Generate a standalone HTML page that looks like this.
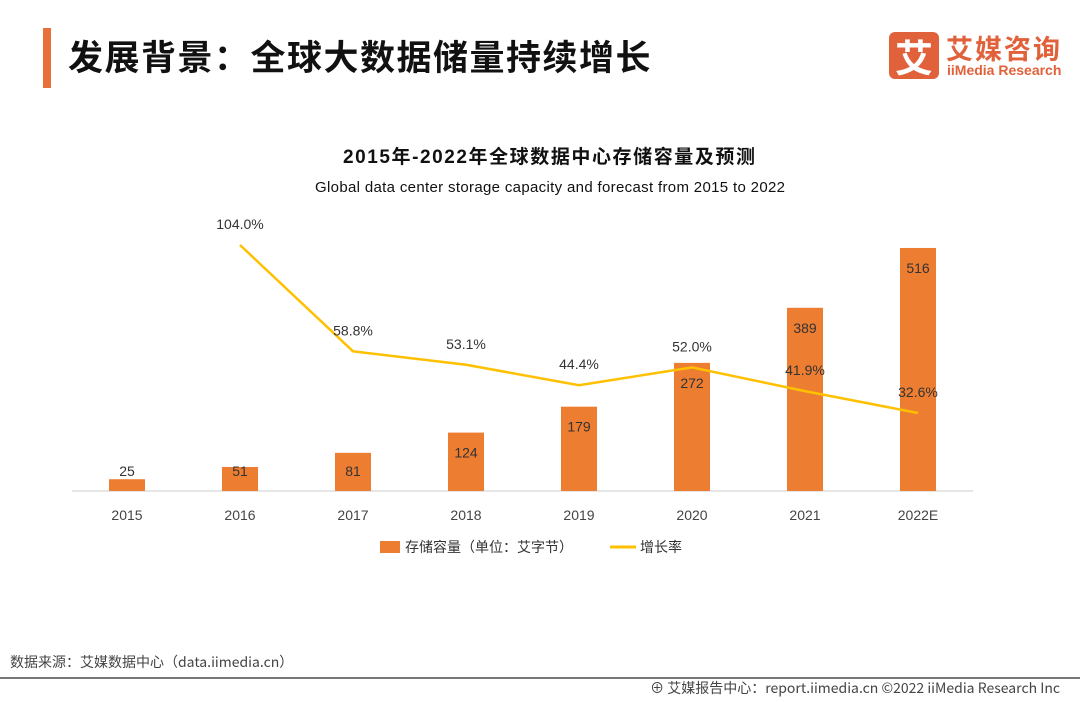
<!DOCTYPE html>
<html><head><meta charset="utf-8"><style>
body{margin:0;width:1080px;height:702px;background:#fff;overflow:hidden;font-family:"Liberation Sans","Noto Sans CJK SC",sans-serif;position:relative}
.abs{position:absolute}
</style></head><body>
<div class="abs" style="left:43px;top:28px;width:8px;height:60px;background:#e8703a"></div>
<div class="abs" style="left:68px;top:30px;font-size:35px;font-weight:bold;color:#111;font-family:'Noto Sans CJK SC',sans-serif;letter-spacing:1.5px">发展背景：全球大数据储量持续增长</div>
<div class="abs" style="left:889px;top:32px;width:50px;height:47px;background:#e0613a;border-radius:6px;color:#fff;font-size:38px;font-weight:bold;text-align:center;line-height:47px;font-family:'Noto Sans CJK SC',sans-serif">艾</div>
<div class="abs" style="left:946px;top:28px;font-size:27px;font-weight:bold;color:#e0613a;font-family:'Noto Sans CJK SC',sans-serif;letter-spacing:2px">艾媒咨询</div>
<div class="abs" style="left:947px;top:62px;font-size:14px;color:#e0613a;font-weight:bold">iiMedia Research</div>
<svg class="abs" style="left:0;top:0" width="1080" height="702">
<text x="549" y="163" text-anchor="middle" font-size="19" font-weight="bold" fill="#111" font-family="Liberation Sans,Noto Sans CJK SC,sans-serif" textLength="412">2015年-2022年全球数据中心存储容量及预测</text>
<text x="550" y="192" text-anchor="middle" font-size="15" fill="#111" font-family="Liberation Sans,sans-serif" textLength="470">Global data center storage capacity and forecast from 2015 to 2022</text>
<line x1="72" y1="491" x2="973" y2="491" stroke="#ccc"/>
<g id="g"></g>
<rect x="380" y="541" width="20" height="12" fill="#ed7d31"/>
<text x="405" y="552" font-size="14" fill="#333" font-family="Noto Sans CJK SC,sans-serif">存储容量（单位：艾字节）</text>
<line x1="610" y1="547" x2="636" y2="547" stroke="#ffc000" stroke-width="3"/>
<text x="640" y="552" font-size="14" fill="#333" font-family="Noto Sans CJK SC,sans-serif">增长率</text>
<line x1="0" y1="678" x2="1080" y2="678" stroke="#777" stroke-width="2"/>
<text x="10" y="667" font-size="14" fill="#444" font-family="Noto Sans CJK SC,sans-serif">数据来源：艾媒数据中心（data.iimedia.cn）</text>
<text x="1060" y="693" text-anchor="end" font-size="14" fill="#444" font-family="Noto Sans CJK SC,sans-serif">⊕ 艾媒报告中心：report.iimedia.cn  ©2022 iiMedia Research Inc</text>
</svg>
<script>
const categories=["2015","2016","2017","2018","2019","2020","2021","2022E"];
const capacity=[25,51,81,124,179,272,389,516];
const growth=[null,104.0,58.8,53.1,44.4,52.0,41.9,32.6];
const growthLabels=["","104.0%","58.8%","53.1%","44.4%","52.0%","41.9%","32.6%"];
const NS="http://www.w3.org/2000/svg";
const g=document.getElementById('g');
const xS=i=>127+i*113;
const yB=v=>491-v*0.471;
const yL=v=>489.7-v*2.353;
function mk(t,a){const e=document.createElementNS(NS,t);for(const k in a)e.setAttribute(k,a[k]);g.appendChild(e);return e;}
capacity.forEach((v,i)=>{
 const r=mk('rect',{x:xS(i)-18,y:yB(v),width:36,height:491-yB(v),fill:'#ed7d31'});
 
 
 const ly=Math.min(yB(v)+25,476);
 const t=mk('text',{x:xS(i),y:ly,'text-anchor':'middle','font-size':14,fill:'#333','font-family':'Liberation Sans,sans-serif'});
 t.textContent=v;
 
 
 const c=mk('text',{x:xS(i),y:520,'text-anchor':'middle','font-size':14,fill:'#444','font-family':'Liberation Sans,sans-serif'});
 c.textContent=categories[i];
 
 
});
let d='';
growth.forEach((v,i)=>{if(v==null)return;d+=(d?'L':'M')+xS(i)+','+yL(v);});
const p=mk('path',{d:d,fill:'none',stroke:'#ffc000','stroke-width':2.5});


growth.forEach((v,i)=>{if(v==null)return;
 const t=mk('text',{x:xS(i),y:yL(v)-16,'text-anchor':'middle','font-size':14,fill:'#333','font-family':'Liberation Sans,sans-serif'});
 t.textContent=growthLabels[i];
 
 
});
</script>
</body></html>
